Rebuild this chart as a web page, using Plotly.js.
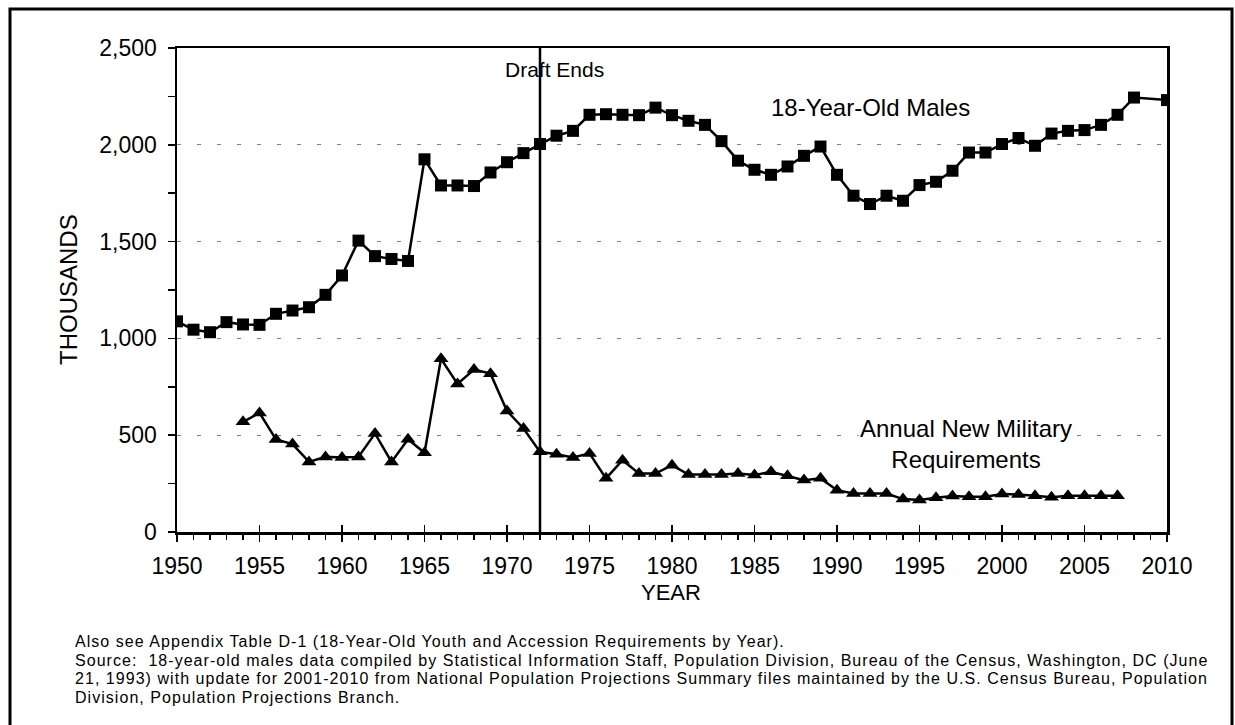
<!DOCTYPE html>
<html>
<head>
<meta charset="utf-8">
<script src="https://cdn.plot.ly/plotly-3.0.1.min.js"></script>
<style>
html,body{margin:0;padding:0;background:#fff;}
#chart{width:1235px;height:725px;}
.annotation[data-index="5"] .annotation-text,
.annotation[data-index="6"] .annotation-text,
.annotation[data-index="7"] .annotation-text,
.annotation[data-index="8"] .annotation-text { letter-spacing: 1.04px; }
</style>
</head>
<body>
<div id="chart"></div>
<script>
// ---- data ----
const maleYears = [1950,1951,1952,1953,1954,1955,1956,1957,1958,1959,1960,1961,1962,1963,1964,1965,1966,1967,1968,1969,1970,1971,1972,1973,1974,1975,1976,1977,1978,1979,1980,1981,1982,1983,1984,1985,1986,1987,1988,1989,1990,1991,1992,1993,1994,1995,1996,1997,1998,1999,2000,2001,2002,2003,2004,2005,2006,2007,2008,2010];
const maleValues = [1088,1045,1032,1084,1072,1070,1127,1144,1161,1225,1325,1505,1425,1410,1400,1925,1790,1790,1787,1857,1910,1957,2004,2047,2072,2155,2158,2155,2153,2192,2153,2124,2103,2019,1918,1871,1845,1888,1943,1991,1845,1737,1694,1737,1711,1792,1809,1866,1960,1960,2004,2035,1995,2058,2072,2076,2103,2155,2244,2231];
const milYears = [1954,1955,1956,1957,1958,1959,1960,1961,1962,1963,1964,1965,1966,1967,1968,1969,1970,1971,1972,1973,1974,1975,1976,1977,1978,1979,1980,1981,1982,1983,1984,1985,1986,1987,1988,1989,1990,1991,1992,1993,1994,1995,1996,1997,1998,1999,2000,2001,2002,2003,2004,2005,2006,2007];
const milValues = [569,615,478,454,362,388,385,388,509,362,479,409,895,765,839,818,625,535,414,402,385,406,277,371,302,302,345,297,297,297,302,294,311,290,268,277,216,199,199,199,170,165,177,186,182,182,196,194,187,179,187,187,187,187];
const draftYear = 1972;
const yTickVals = [0,500,1000,1500,2000,2500];
const xTickVals = [1950,1955,1960,1965,1970,1975,1980,1985,1990,1995,2000,2005,2010];
const labelMales = "18-Year-Old Males";
const labelMil = "Annual New Military<br>Requirements";
const labelDraft = "Draft Ends";
const footLines = [
  "Also see Appendix Table D-1 (18-Year-Old Youth and Accession Requirements by Year).",
  "Source:  18-year-old males data compiled by Statistical Information Staff, Population Division, Bureau of the Census, Washington, DC (June",
  "21, 1993) with update for 2001-2010 from National Population Projections Summary files maintained by the U.S. Census Bureau, Population",
  "Division, Population Projections Branch."
];

// ---- layout geometry (pixels) ----
const W = 1235, H = 725;
const L = 177, R = 1167, T = 48, B = 532;
const px = v => (v - L) / (R - L);
const py = v => (B - v) / (B - T);
const FONT = "Liberation Sans, Arial, Helvetica, sans-serif";

const traces = [
  {x: maleYears, y: maleValues, type: 'scatter', mode: 'lines+markers',
   line: {color: '#000', width: 2.5}, marker: {symbol: 'square', size: 12, color: '#000'},
   hoverinfo: 'x+y', showlegend: false},
  {x: milYears, y: milValues, type: 'scatter', mode: 'lines+markers',
   line: {color: '#000', width: 2.5}, marker: {symbol: 'triangle-up', size: 13, color: '#000'},
   hoverinfo: 'x+y', showlegend: false},
  {x: [1950, 2010], y: [null, null], xaxis: 'x2', yaxis: 'y', type: 'scatter', mode: 'lines',
   showlegend: false, hoverinfo: 'skip'}
];

const annotations = [
  {text: labelDraft, x: 1972.85, y: py(70), xref: 'x', yref: 'paper', showarrow: false,
   font: {family: FONT, size: 21, color: '#000'}, xanchor: 'center', yanchor: 'middle'},
  {text: labelMales, x: 1992.06, y: py(107), xref: 'x', yref: 'paper', showarrow: false,
   font: {family: FONT, size: 24, color: '#000'}, xanchor: 'center', yanchor: 'middle'},
  {text: labelMil, x: 1997.8, y: py(443.5), xref: 'x', yref: 'paper', showarrow: false,
   font: {family: FONT, size: 24, color: '#000'}, xanchor: 'center', yanchor: 'middle',
   bgcolor: '#fff', align: 'center'},
  {text: 'THOUSANDS', x: px(68), y: 0.5, xref: 'paper', yref: 'paper', showarrow: false,
   textangle: -90, font: {family: FONT, size: 24, color: '#000'}, xanchor: 'center', yanchor: 'middle'},
  {text: 'YEAR', x: px(671), y: py(592), xref: 'paper', yref: 'paper', showarrow: false,
   font: {family: FONT, size: 22, color: '#000'}, xanchor: 'center', yanchor: 'middle'}
];
const footY = [641.5, 660, 678.5, 697];
footLines.forEach((t, i) => {
  annotations.push({text: t, x: px(73), y: py(footY[i]), xref: 'paper', yref: 'paper',
    showarrow: false, xanchor: 'left', yanchor: 'middle', align: 'left',
    font: {family: FONT, size: 16, color: '#000'}});
});

const layout = {
  width: W, height: H,
  margin: {l: L, r: W - R, t: T, b: H - B, pad: 0},
  paper_bgcolor: '#fff', plot_bgcolor: '#fff',
  font: {family: FONT, color: '#000'},
  showlegend: false,
  xaxis: {
    range: [1950, 2010], tickvals: xTickVals, ticktext: xTickVals.map(String),
    ticks: 'outside', ticklen: 7, tickwidth: 1.5, tickcolor: '#000',
    minor: {dtick: 1, tick0: 1950, ticks: 'outside', ticklen: 5, tickwidth: 1.5, tickcolor: '#000', showgrid: false},
    showline: true, linecolor: '#000', linewidth: 2.5, mirror: true,
    showgrid: false, zeroline: false,
    tickfont: {family: FONT, size: 23, color: '#000'},
    ticklabelstandoff: 5
  },
  xaxis2: {
    range: [1950, 2010], overlaying: 'x', anchor: 'y', side: 'bottom',
    tickvals: xTickVals, showticklabels: false,
    ticks: 'inside', ticklen: 7, tickwidth: 1.5, tickcolor: '#000',
    showline: false, showgrid: false, zeroline: false
  },
  yaxis: {
    range: [0, 2500], tickvals: yTickVals, ticktext: yTickVals.map(v => v.toLocaleString('en-US')),
    ticks: 'outside', ticklen: 7, tickwidth: 1.5, tickcolor: '#000',
    minor: {dtick: 250, tick0: 0, ticks: 'outside', ticklen: 7, tickwidth: 1.5, tickcolor: '#000', showgrid: false},
    showline: true, linecolor: '#000', linewidth: 2.5, mirror: true,
    showgrid: true, gridcolor: '#808080', gridwidth: 1, griddash: '4px,16px',
    zeroline: false,
    tickfont: {family: FONT, size: 23, color: '#000'},
    ticklabelstandoff: 6
  },
  shapes: [
    {type: 'line', xref: 'x', yref: 'paper', x0: draftYear, x1: draftYear, y0: 0, y1: 1,
     line: {color: '#000', width: 2.5}, layer: 'above'},
    {type: 'rect', xref: 'paper', yref: 'paper', x0: px(10), x1: px(1232), y0: py(760), y1: py(9),
     line: {color: '#000', width: 3}, fillcolor: 'rgba(0,0,0,0)', layer: 'above'}
  ],
  annotations: annotations
};

Plotly.newPlot('chart', traces, layout, {displayModeBar: false, staticPlot: true});
</script>
</body>
</html>
